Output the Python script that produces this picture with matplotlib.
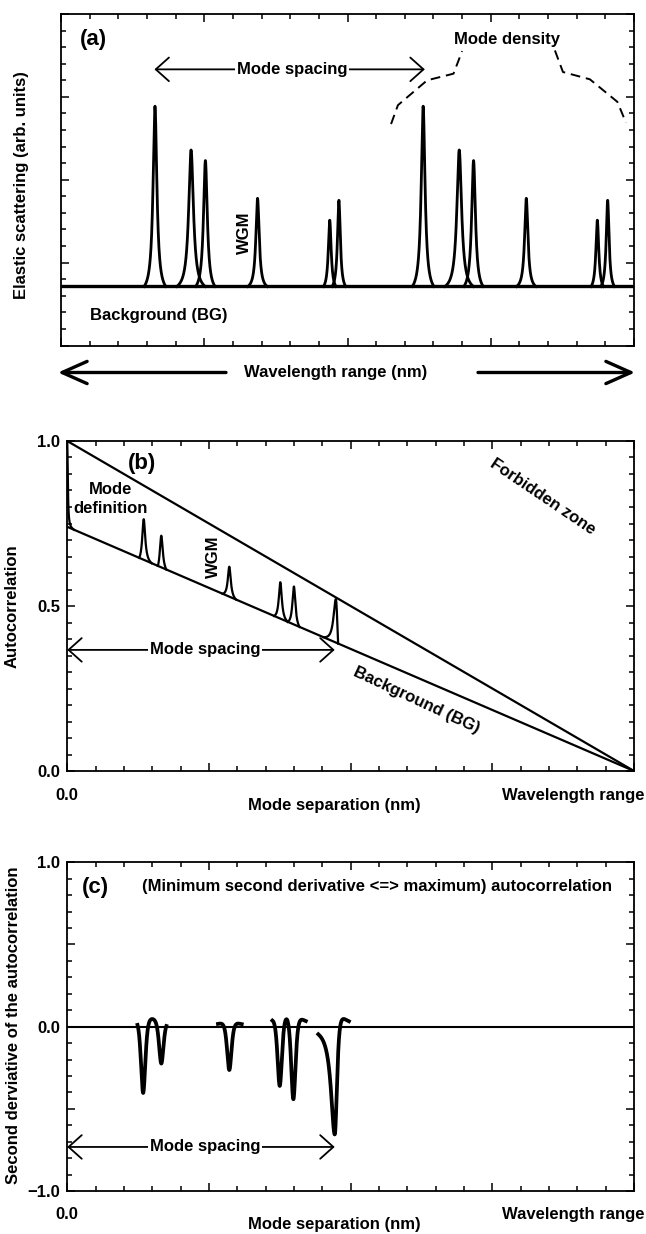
import numpy as np
import matplotlib
matplotlib.use('Agg')
import matplotlib.pyplot as plt

plt.rcParams['font.family'] = ['Liberation Sans', 'DejaVu Sans']
plt.rcParams['font.weight'] = 'bold'
plt.rcParams['font.size'] = 12

# ---- data ----
# (a) elastic scattering: WGM peaks sitting on a flat background
bg_level = 0.178
peak_pos = [0.164, 0.227, 0.252, 0.343, 0.469, 0.485, 0.632, 0.695, 0.720, 0.812, 0.936, 0.954]
peak_top = [0.722, 0.590, 0.558, 0.444, 0.378, 0.438, 0.722, 0.590, 0.558, 0.444, 0.378, 0.438]
peak_half = [0.019, 0.025, 0.017, 0.017, 0.011, 0.012, 0.019, 0.025, 0.017, 0.017, 0.011, 0.012]
peak_gamma = [0.004, 0.005, 0.004, 0.0035, 0.003, 0.003, 0.004, 0.005, 0.004, 0.0035, 0.003, 0.003]

# dashed "mode density" envelope (two pieces either side of the label)
dens_x1 = [0.576, 0.588, 0.639, 0.685, 0.700]
dens_y1 = [0.668, 0.725, 0.800, 0.820, 0.888]
dens_x2 = [0.862, 0.876, 0.923, 0.971, 0.986]
dens_y2 = [0.890, 0.825, 0.803, 0.735, 0.672]

# (b) autocorrelation
ac_bg0 = 0.74          # background line value at zero separation
ac_pos = [0.135, 0.166, 0.286, 0.376, 0.400, 0.474]
ac_top = [0.763, 0.713, 0.619, 0.572, 0.559, 0.521]
ac_left = [0.008, 0.006, 0.012, 0.011, 0.011, 0.022]
ac_right = [0.014, 0.009, 0.012, 0.013, 0.010, 0.004]
ac_gamma = [0.0032, 0.0032, 0.0032, 0.0032, 0.0032, 0.005]

# (c) second derivative of the autocorrelation
d2_pos = [0.134, 0.166, 0.286, 0.375, 0.399, 0.472]
d2_depth = [-0.412, -0.239, -0.264, -0.385, -0.462, -0.656]
d2_broad_left = [False, False, False, False, False, True]
d2_groups = [(0.124, 0.175), (0.266, 0.308), (0.362, 0.421), (0.443, 0.497)]
d2_width = 0.008

W, H = 646, 1234


def box(l, t, r, b):
    return [l / W, 1 - b / H, (r - l) / W, (b - t) / H]


def lorentz_side(x, x0, gamma, reach):
    # lorentzian tail pulled down to zero at the end of its window
    L = 1 / (1 + ((x - x0) / gamma) ** 2)
    e = 1 / (1 + (reach / gamma) ** 2)
    return (L - e) / (1 - e)


def style_axes(ax, ymaj, ymin):
    ax.set_xlim(0, 1)
    ax.set_xticks(np.arange(0, 1.01, 0.25))
    ax.set_xticks(np.arange(0, 1.001, 0.05), minor=True)
    ax.set_yticks(ymaj)
    ax.set_yticks(ymin, minor=True)
    ax.set_xticklabels([])
    ax.tick_params(which='both', direction='in', top=True, right=True, width=1.1)
    ax.tick_params(which='major', length=6, pad=5)
    ax.tick_params(which='minor', length=3.5)
    for s in ax.spines.values():
        s.set_linewidth(1.3)


def mode_spacing(ax, x0, x1, y, xt):
    ax.annotate('', xy=(x1, y), xytext=(x0, y),
                arrowprops=dict(arrowstyle='<->,head_length=0.95,head_width=0.85', lw=1.3,
                                color='black', shrinkA=0, shrinkB=0, mutation_scale=10))
    ax.text(xt, y, 'Mode spacing', ha='center', va='center',
            bbox=dict(facecolor='white', edgecolor='none', pad=1))


fig = plt.figure(figsize=(W / 100, H / 100), dpi=100)

# ---------------- (a) ----------------
ax_a = fig.add_axes(box(61, 14, 634, 345.5))
style_axes(ax_a, np.arange(0, 1.01, 0.25), np.arange(0, 1.001, 0.05))
ax_a.set_ylim(0, 1)
ax_a.set_yticklabels([])
ax_a.axhline(bg_level, color='black', lw=2.4)
for p, t, hw, g in zip(peak_pos, peak_top, peak_half, peak_gamma):
    x = np.linspace(p - hw, p + hw, 300)
    y = bg_level + (t - bg_level) * lorentz_side(x, p, g, hw)
    ax_a.plot(x, y, color='black', lw=2.0)
ax_a.plot(dens_x1, dens_y1, color='black', lw=1.4, ls=(0, (5, 3)))
ax_a.plot(dens_x2, dens_y2, color='black', lw=1.4, ls=(0, (5, 3)))
ax_a.text(0.779, 0.923, 'Mode density', ha='center', va='center')
ax_a.text(0.056, 0.923, '(a)', ha='center', va='center', fontsize=16)
ax_a.text(0.32, 0.34, 'WGM', ha='center', va='center', rotation=90)
ax_a.text(0.05, 0.09, 'Background (BG)', ha='left', va='center')
mode_spacing(ax_a, 0.163, 0.635, 0.833, 0.403)
ax_a.set_ylabel('Elastic scattering (arb. units)', fontsize=12, fontweight='bold')
ax_a.yaxis.set_label_coords(-0.056, 0.485)

# wavelength range arrows under panel (a)
ya = 1 - 372.5 / H
fig.text(336 / W, ya, 'Wavelength range (nm)', ha='center', va='center')
arrow_kw = dict(arrowstyle='->,head_length=1.8,head_width=0.8', lw=2.4, color='black',
                shrinkA=0, shrinkB=0, mutation_scale=10)
ax_a.annotate('', xy=(58 / W, ya), xytext=(226 / W, ya), xycoords='figure fraction',
              textcoords='figure fraction', arrowprops=arrow_kw)
ax_a.annotate('', xy=(635 / W, ya), xytext=(478 / W, ya), xycoords='figure fraction',
              textcoords='figure fraction', arrowprops=arrow_kw)

# ---------------- (b) ----------------
ax_b = fig.add_axes(box(67.2, 441, 634, 771))
style_axes(ax_b, [0, 0.5, 1.0], np.arange(0, 1.001, 0.05))
ax_b.set_ylim(0, 1)
ax_b.set_yticklabels(['0.0', '0.5', '1.0'])
xs = np.linspace(0, 1, 2)
ax_b.plot(xs, 1 - xs, color='black', lw=1.6)
ax_b.plot(xs, ac_bg0 * (1 - xs), color='black', lw=1.6)

# mode definition: the zero-separation peak
x = np.linspace(0, 0.012, 200)
ax_b.plot(x, ac_bg0 * (1 - x) + (1 - ac_bg0) * lorentz_side(x, 0, 0.0012, 0.012),
          color='black', lw=1.6)
for p, t, lw_, rw, g in zip(ac_pos, ac_top, ac_left, ac_right, ac_gamma):
    amp = t - ac_bg0 * (1 - p)
    xl = np.linspace(p - lw_, p, 150)
    xr = np.linspace(p, p + rw, 150)
    x = np.concatenate([xl, xr])
    y = np.concatenate([ac_bg0 * (1 - xl) + amp * lorentz_side(xl, p, g, lw_),
                        ac_bg0 * (1 - xr) + amp * lorentz_side(xr, p, g, rw)])
    ax_b.plot(x, y, color='black', lw=1.6)

ax_b.text(0.132, 0.932, '(b)', ha='center', va='center', fontsize=16)
ax_b.text(0.076, 0.824, 'Mode\ndefinition', ha='center', va='center', linespacing=1.3)
ax_b.text(0.258, 0.65, 'WGM', ha='center', va='center', rotation=90)
ax_b.text(0.838, 0.831, 'Forbidden zone', ha='center', va='center', rotation=-34)
ax_b.text(0.616, 0.215, 'Background (BG)', ha='center', va='center', rotation=-25)
mode_spacing(ax_b, 0.0, 0.472, 0.367, 0.243)
ax_b.set_ylabel('Autocorrelation', fontsize=12, fontweight='bold')
ax_b.yaxis.set_label_coords(-0.084, 0.5)
ax_b.text(0.0, -0.073, '0.0', ha='center', va='center', transform=ax_b.transAxes)
ax_b.text(0.892, -0.073, 'Wavelength range', ha='center', va='center', transform=ax_b.transAxes)
ax_b.text(0.471, -0.106, 'Mode separation (nm)', ha='center', va='center', transform=ax_b.transAxes)

# ---------------- (c) ----------------
ax_c = fig.add_axes(box(67.2, 862.3, 634, 1191))
style_axes(ax_c, [-1, -0.5, 0, 0.5, 1], np.arange(-1, 1.001, 0.1))
ax_c.set_ylim(-1, 1)
ax_c.set_yticklabels(['\u22121.0', '', '0.0', '', '1.0'])
ax_c.axhline(0, color='black', lw=1.5)
for lo, hi in d2_groups:
    x = np.linspace(lo, hi, 400)
    y = np.zeros_like(x)
    for p, d, broad in zip(d2_pos, d2_depth, d2_broad_left):
        if lo <= p <= hi:
            u = (x - p) / d2_width
            shape = (1 - (u / 1.2) ** 2) / (1 + u ** 2) ** 2
            if broad:
                # slow left flank of the last dip
                ul = (x - p) / 0.008
                shape = np.where(u < 0, 1 / (1 + ul ** 2), shape)
            y += d * shape
    ax_c.plot(x, y, color='black', lw=2.7)

ax_c.text(0.049, 0.846, '(c)', ha='center', va='center', fontsize=16)
ax_c.text(0.546, 0.85, '(Minimum second derivative <=> maximum) autocorrelation',
          ha='center', va='center')
mode_spacing(ax_c, 0.0, 0.472, -0.732, 0.243)
ax_c.set_ylabel('Second derviative of the autocorrelation', fontsize=12, fontweight='bold')
ax_c.yaxis.set_label_coords(-0.081, 0.505)
ax_c.text(0.0, -0.073, '0.0', ha='center', va='center', transform=ax_c.transAxes)
ax_c.text(0.892, -0.073, 'Wavelength range', ha='center', va='center', transform=ax_c.transAxes)
ax_c.text(0.471, -0.103, 'Mode separation (nm)', ha='center', va='center', transform=ax_c.transAxes)

fig.savefig('out.png', dpi=100)
